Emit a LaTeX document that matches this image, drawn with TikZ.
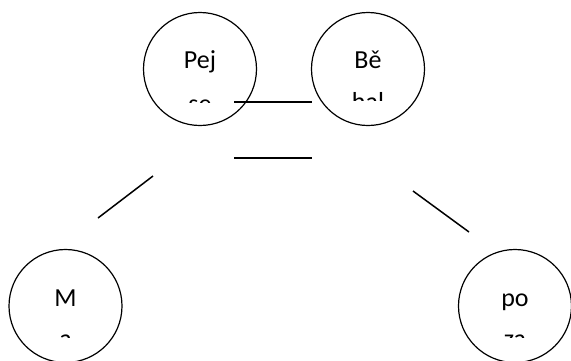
\documentclass[tikz,border=0pt]{standalone}
\usepackage{fontspec}
\setmainfont{Carlito}
\begin{document}
\begin{tikzpicture}[x=1pt,y=-1pt,
  bubble/.style={circle, draw, line width=1.2pt, minimum size=113pt, inner sep=0pt},
  word/.style={anchor=base, inner sep=0pt, font=\fontsize{26}{30}\selectfont},
  link/.style={line width=1.5pt}]
\useasboundingbox (0,0) rectangle (571,360);
\clip (0,0) rectangle (571,360);
% circles
\node[bubble] (pejse) at (200,69) {};
\node[bubble] (behal) at (368,69) {};
\node[bubble] (ma) at (65.5,306) {};
\node[bubble] (poza) at (515,306) {};
% texts (clipped second lines)
\begin{scope}
  \clip (140,10) rectangle (260,102);
  \node[word] (pejse1) at (200,68) {Pej};
  \node[word] (pejse2) at (200,112) {se};
\end{scope}
\begin{scope}
  \clip (310,10) rectangle (426,100);
  \node[word] (behal1) at (368,68) {Bě};
  \node[word] (behal2) at (368,110) {hal};
\end{scope}
\begin{scope}
  \clip (5,245) rectangle (126,337);
  \node[word] (ma1) at (65.5,306) {M};
  \node[word] (ma2) at (65.5,347) {a};
\end{scope}
\begin{scope}
  \clip (455,245) rectangle (571,337);
  \node[word] (poza1) at (515,306) {po};
  \node[word] (poza2) at (515,347) {za};
\end{scope}
% free connectors
\coordinate (h1a) at (234,102);
\coordinate (h1b) at (312,102);
\coordinate (h2a) at (234,158);
\coordinate (h2b) at (312,158);
\coordinate (l1a) at (153,176);
\coordinate (l1b) at (98,218);
\coordinate (r1a) at (413,191);
\coordinate (r1b) at (469,232);
\draw[link] (h1a) -- (h1b);
\draw[link] (h2a) -- (h2b);
\draw[link] (l1a) -- (l1b);
\draw[link] (r1a) -- (r1b);
\end{tikzpicture}
\end{document}
